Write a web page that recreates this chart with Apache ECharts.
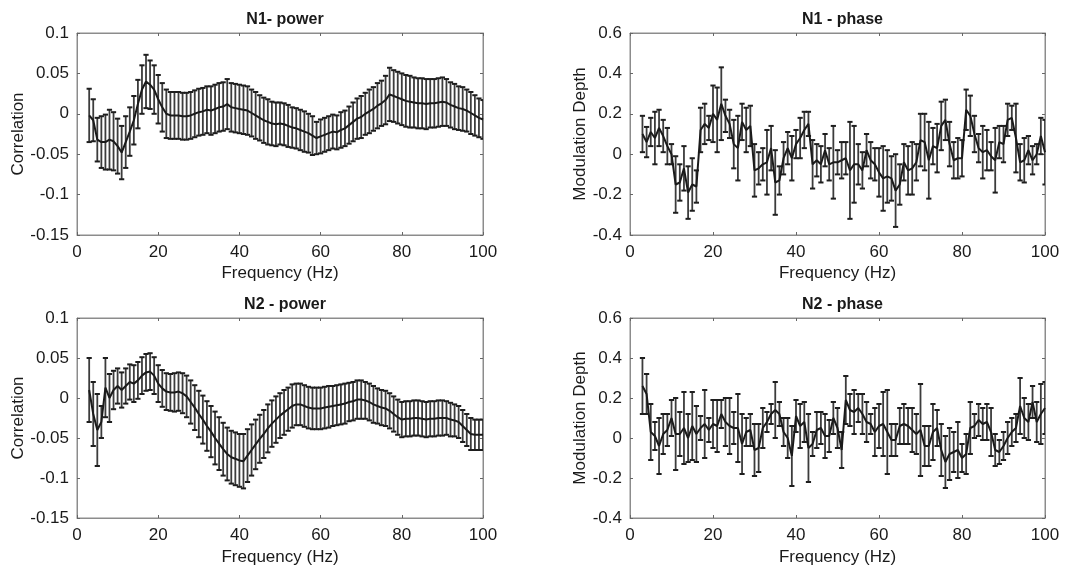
<!DOCTYPE html>
<html>
<head>
<meta charset="utf-8">
<script src="https://cdn.jsdelivr.net/npm/echarts@6/dist/echarts.min.js"></script>
<style>
html,body{margin:0;padding:0;background:#fff;}
#chart{width:1071px;height:571px;}
</style>
</head>
<body>
<div id="chart"></div>
<script>
// ---------------- DATA ----------------
var freq = [3,4,5,6,7,8,9,10,11,12,13,14,15,16,17,18,19,20,21,22,23,24,25,26,27,28,29,30,31,32,33,34,35,36,37,38,39,40,41,42,43,44,45,46,47,48,49,50,51,52,53,54,55,56,57,58,59,60,61,62,63,64,65,66,67,68,69,70,71,72,73,74,75,76,77,78,79,80,81,82,83,84,85,86,87,88,89,90,91,92,93,94,95,96,97,98,99,100];

var n1PowerMean = [-0.002,-0.008,-0.032,-0.035,-0.035,-0.032,-0.034,-0.040,-0.048,-0.035,-0.022,-0.008,0.012,0.030,0.040,0.036,0.030,0.018,0.008,0.000,-0.002,-0.002,-0.002,-0.003,-0.003,-0.002,0.000,0.002,0.003,0.005,0.004,0.006,0.008,0.009,0.012,0.008,0.007,0.006,0.005,0.004,0.001,-0.002,-0.005,-0.008,-0.010,-0.012,-0.013,-0.012,-0.013,-0.015,-0.017,-0.018,-0.020,-0.022,-0.024,-0.027,-0.030,-0.028,-0.026,-0.024,-0.022,-0.023,-0.020,-0.018,-0.014,-0.010,-0.006,-0.004,0.000,0.003,0.006,0.010,0.013,0.017,0.024,0.022,0.020,0.018,0.016,0.015,0.014,0.013,0.013,0.012,0.013,0.013,0.014,0.015,0.014,0.011,0.009,0.007,0.006,0.004,0.001,-0.002,-0.005,-0.007];
var n1PowerErr = [0.033,0.026,0.027,0.032,0.034,0.037,0.036,0.034,0.033,0.032,0.030,0.030,0.030,0.030,0.033,0.030,0.030,0.030,0.030,0.030,0.029,0.029,0.029,0.029,0.029,0.029,0.029,0.029,0.029,0.029,0.030,0.030,0.030,0.030,0.031,0.030,0.030,0.030,0.030,0.030,0.029,0.029,0.028,0.028,0.028,0.027,0.027,0.026,0.026,0.026,0.025,0.025,0.025,0.025,0.024,0.024,0.020,0.021,0.021,0.021,0.021,0.021,0.022,0.022,0.023,0.024,0.025,0.026,0.026,0.027,0.027,0.028,0.028,0.030,0.033,0.032,0.032,0.032,0.032,0.032,0.031,0.031,0.031,0.031,0.030,0.030,0.030,0.030,0.029,0.028,0.028,0.027,0.027,0.026,0.026,0.025,0.024,0.024];

var n1PhaseMean = [0.10,0.06,0.11,0.08,0.13,0.09,0.04,0.00,-0.15,-0.14,-0.07,-0.19,-0.15,-0.16,0.12,0.15,0.13,0.20,0.17,0.25,0.19,0.15,0.05,0.03,0.16,0.12,0.14,-0.08,-0.07,-0.05,-0.04,0.03,-0.14,-0.13,-0.02,0.03,-0.02,0.05,0.08,0.12,0.15,-0.05,-0.03,-0.05,0.02,-0.05,-0.04,-0.04,-0.03,-0.02,-0.08,-0.05,-0.05,-0.08,0.02,-0.03,-0.05,-0.09,-0.12,-0.11,-0.12,-0.18,-0.15,-0.04,-0.08,-0.07,-0.04,0.07,0.06,-0.03,0.04,0.03,0.14,0.17,0.05,-0.03,-0.02,-0.02,0.22,0.19,0.10,0.03,0.01,0.02,-0.01,-0.03,0.06,0.05,0.17,0.18,0.08,-0.04,-0.03,0.02,-0.03,0.00,0.09,0.01];
var n1PhaseErr = [0.09,0.075,0.07,0.13,0.09,0.08,0.09,0.05,0.14,0.09,0.11,0.13,0.13,0.08,0.11,0.10,0.06,0.14,0.16,0.18,0.08,0.07,0.12,0.16,0.09,0.11,0.10,0.13,0.08,0.08,0.16,0.11,0.16,0.07,0.08,0.08,0.11,0.07,0.10,0.09,0.06,0.12,0.08,0.09,0.08,0.08,0.18,0.06,0.09,0.08,0.24,0.19,0.10,0.09,0.08,0.09,0.08,0.12,0.16,0.13,0.11,0.18,0.10,0.09,0.12,0.13,0.09,0.13,0.14,0.19,0.09,0.12,0.12,0.10,0.11,0.09,0.10,0.09,0.10,0.10,0.09,0.07,0.13,0.10,0.07,0.16,0.08,0.09,0.08,0.06,0.17,0.09,0.11,0.07,0.07,0.05,0.09,0.16];

var n2PowerMean = [0.010,-0.020,-0.040,-0.030,0.013,0.000,0.010,0.015,0.010,0.015,0.020,0.018,0.022,0.028,0.032,0.033,0.028,0.018,0.012,0.008,0.007,0.007,0.008,0.006,0.002,-0.005,-0.012,-0.020,-0.027,-0.035,-0.042,-0.050,-0.057,-0.064,-0.070,-0.074,-0.076,-0.078,-0.079,-0.072,-0.065,-0.058,-0.051,-0.045,-0.038,-0.032,-0.027,-0.022,-0.018,-0.014,-0.010,-0.008,-0.008,-0.010,-0.012,-0.013,-0.013,-0.013,-0.012,-0.011,-0.010,-0.009,-0.008,-0.007,-0.005,-0.004,-0.002,-0.002,-0.003,-0.005,-0.008,-0.010,-0.012,-0.013,-0.016,-0.020,-0.024,-0.027,-0.026,-0.026,-0.025,-0.025,-0.026,-0.027,-0.026,-0.026,-0.025,-0.025,-0.025,-0.027,-0.028,-0.030,-0.035,-0.040,-0.045,-0.046,-0.046,-0.046];
var n2PowerErr = [0.040,0.040,0.045,0.020,0.037,0.030,0.024,0.022,0.022,0.022,0.022,0.023,0.023,0.023,0.023,0.023,0.023,0.023,0.023,0.023,0.023,0.024,0.024,0.025,0.026,0.027,0.028,0.029,0.030,0.031,0.032,0.033,0.033,0.033,0.033,0.033,0.033,0.033,0.034,0.033,0.032,0.031,0.030,0.030,0.030,0.029,0.029,0.028,0.028,0.027,0.027,0.026,0.026,0.026,0.026,0.026,0.026,0.026,0.026,0.026,0.025,0.025,0.025,0.025,0.024,0.024,0.024,0.024,0.023,0.023,0.023,0.022,0.022,0.022,0.022,0.022,0.022,0.022,0.022,0.022,0.022,0.022,0.022,0.022,0.022,0.022,0.022,0.022,0.021,0.021,0.020,0.020,0.020,0.020,0.020,0.019,0.019,0.019];

var n2PhaseMean = [0.26,0.22,0.03,0.01,-0.04,0.02,0.04,0.10,0.02,0.02,0.05,0.00,0.06,0.02,0.05,0.07,0.04,0.07,0.06,0.12,0.08,0.06,0.05,0.05,-0.03,0.03,0.04,-0.06,-0.05,0.05,0.08,0.12,0.14,0.12,0.03,0.00,-0.09,0.11,0.06,0.08,-0.05,-0.03,0.04,0.05,0.01,0.01,0.10,0.05,-0.06,0.19,0.14,0.13,0.15,0.12,0.08,0.07,0.03,0.06,0.07,0.03,-0.01,-0.01,0.06,0.07,0.06,0.04,0.02,0.04,-0.04,-0.04,0.03,0.05,-0.06,-0.12,-0.08,-0.07,-0.06,-0.10,-0.08,0.05,0.06,0.09,0.07,0.08,0.03,-0.06,-0.07,-0.04,0.00,0.03,0.05,0.16,0.10,0.08,0.18,0.08,0.12,0.15];
var n2PhaseErr = [0.14,0.10,0.14,0.07,0.14,0.10,0.08,0.09,0.18,0.11,0.18,0.12,0.17,0.14,0.06,0.17,0.06,0.12,0.13,0.07,0.12,0.14,0.08,0.17,0.15,0.07,0.08,0.13,0.12,0.10,0.05,0.05,0.14,0.06,0.07,0.10,0.15,0.08,0.11,0.10,0.17,0.06,0.09,0.08,0.11,0.08,0.08,0.10,0.09,0.12,0.08,0.11,0.07,0.10,0.10,0.05,0.12,0.11,0.16,0.21,0.08,0.08,0.09,0.10,0.09,0.11,0.10,0.23,0.10,0.10,0.14,0.09,0.13,0.13,0.13,0.10,0.14,0.07,0.10,0.13,0.06,0.08,0.08,0.09,0.12,0.08,0.06,0.07,0.08,0.07,0.07,0.14,0.10,0.09,0.08,0.10,0.15,0.13];

var titles = ['N1- power', 'N1 - phase', 'N2 - power', 'N2 - phase'];
var yNames = ['Correlation', 'Modulation Depth', 'Correlation', 'Modulation Depth'];
var xName = 'Frequency (Hz)';
var powerTicks = {min: -0.15, max: 0.1, interval: 0.05};
var phaseTicks = {min: -0.4, max: 0.6, interval: 0.2};

// ---------------- CHART ----------------
var FONT = 'Liberation Sans, Arial, sans-serif';
var grids = [
  {left: 77, top: 33, width: 406, height: 202},
  {left: 630, top: 33, width: 415, height: 202},
  {left: 77, top: 318, width: 406, height: 200},
  {left: 630, top: 318, width: 415, height: 200}
];
var panels = [
  {mean: n1PowerMean, err: n1PowerErr, ticks: powerTicks, nameGap: 44},
  {mean: n1PhaseMean, err: n1PhaseErr, ticks: phaseTicks, nameGap: 40},
  {mean: n2PowerMean, err: n2PowerErr, ticks: powerTicks, nameGap: 44},
  {mean: n2PhaseMean, err: n2PhaseErr, ticks: phaseTicks, nameGap: 40}
];

var frameColor = '#8c8c8c';
var textColor = '#1a1a1a';

function fmt(v){ return String(+(+v).toFixed(2)); }

var option = {
  animation: false,
  backgroundColor: '#fff',
  title: [], grid: [], xAxis: [], yAxis: [], series: []
};

function renderErr(params, api){
  var x = api.value(0), lo = api.value(1), hi = api.value(2);
  var p1 = api.coord([x, hi]), p2 = api.coord([x, lo]);
  var w = 2.6;
  return {type: 'group', children: [
    {type: 'line', shape: {x1: p1[0], y1: p1[1], x2: p2[0], y2: p2[1]}, style: {stroke: '#3c3c3c', lineWidth: 1.8}},
    {type: 'line', shape: {x1: p1[0]-w, y1: p1[1], x2: p1[0]+w, y2: p1[1]}, style: {stroke: '#1e1e1e', lineWidth: 2}},
    {type: 'line', shape: {x1: p2[0]-w, y1: p2[1], x2: p2[0]+w, y2: p2[1]}, style: {stroke: '#1e1e1e', lineWidth: 2}}
  ]};
}

panels.forEach(function(p, i){
  var g = grids[i];
  option.grid.push({left: g.left, top: g.top, width: g.width, height: g.height, show: true, borderColor: frameColor, borderWidth: 1, backgroundColor: '#fff'});
  option.title.push({
    text: titles[i], left: g.left + g.width/2, top: g.top - 26, textAlign: 'center',
    textStyle: {fontFamily: FONT, fontSize: 16, fontWeight: 'bold', color: textColor}
  });
  option.xAxis.push({
    type: 'value', gridIndex: i, min: 0, max: 100, interval: 20,
    name: xName, nameLocation: 'middle', nameGap: i < 2 ? 30 : 31,
    nameTextStyle: {fontFamily: FONT, fontSize: 17, color: textColor},
    axisLine: {show: true, onZero: false, lineStyle: {color: frameColor}},
    axisTick: {show: true, inside: true, length: 3, lineStyle: {color: '#666'}},
    axisLabel: {fontFamily: FONT, fontSize: 17, color: textColor, margin: 9},
    splitLine: {show: false}
  });
  option.xAxis.push({
    type: 'value', gridIndex: i, min: 0, max: 100, interval: 20, position: 'top',
    axisLine: {show: true, onZero: false, lineStyle: {color: frameColor}},
    axisTick: {show: true, inside: true, length: 3, lineStyle: {color: '#666'}},
    axisLabel: {show: false}, splitLine: {show: false}
  });
  option.yAxis.push({
    type: 'value', gridIndex: i, min: p.ticks.min, max: p.ticks.max, interval: p.ticks.interval,
    name: yNames[i], nameLocation: 'middle', nameGap: p.nameGap,
    nameTextStyle: {fontFamily: FONT, fontSize: 17, color: textColor},
    axisLine: {show: true, onZero: false, lineStyle: {color: frameColor}},
    axisTick: {show: true, inside: true, length: 3, lineStyle: {color: '#666'}},
    axisLabel: {fontFamily: FONT, fontSize: 17, color: textColor, margin: 8, formatter: fmt},
    splitLine: {show: false}
  });
  option.yAxis.push({
    type: 'value', gridIndex: i, min: p.ticks.min, max: p.ticks.max, interval: p.ticks.interval, position: 'right',
    axisLine: {show: true, onZero: false, lineStyle: {color: frameColor}},
    axisTick: {show: true, inside: true, length: 3, lineStyle: {color: '#666'}},
    axisLabel: {show: false}, splitLine: {show: false}
  });

  var errData = freq.map(function(f, k){ return [f, p.mean[k] - p.err[k], p.mean[k] + p.err[k]]; });
  var lineData = freq.map(function(f, k){ return [f, p.mean[k]]; });

  option.series.push({
    type: 'custom', xAxisIndex: 2*i, yAxisIndex: 2*i,
    renderItem: renderErr, data: errData, encode: {x: 0, y: [1, 2]}, clip: true, silent: true
  });
  option.series.push({
    type: 'line', xAxisIndex: 2*i, yAxisIndex: 2*i, data: lineData,
    showSymbol: false, lineStyle: {color: '#1a1a1a', width: 2}, silent: true, z: 3
  });
});

var chart = echarts.init(document.getElementById('chart'), null, {renderer: 'canvas'});
chart.setOption(option);
</script>
</body>
</html>
